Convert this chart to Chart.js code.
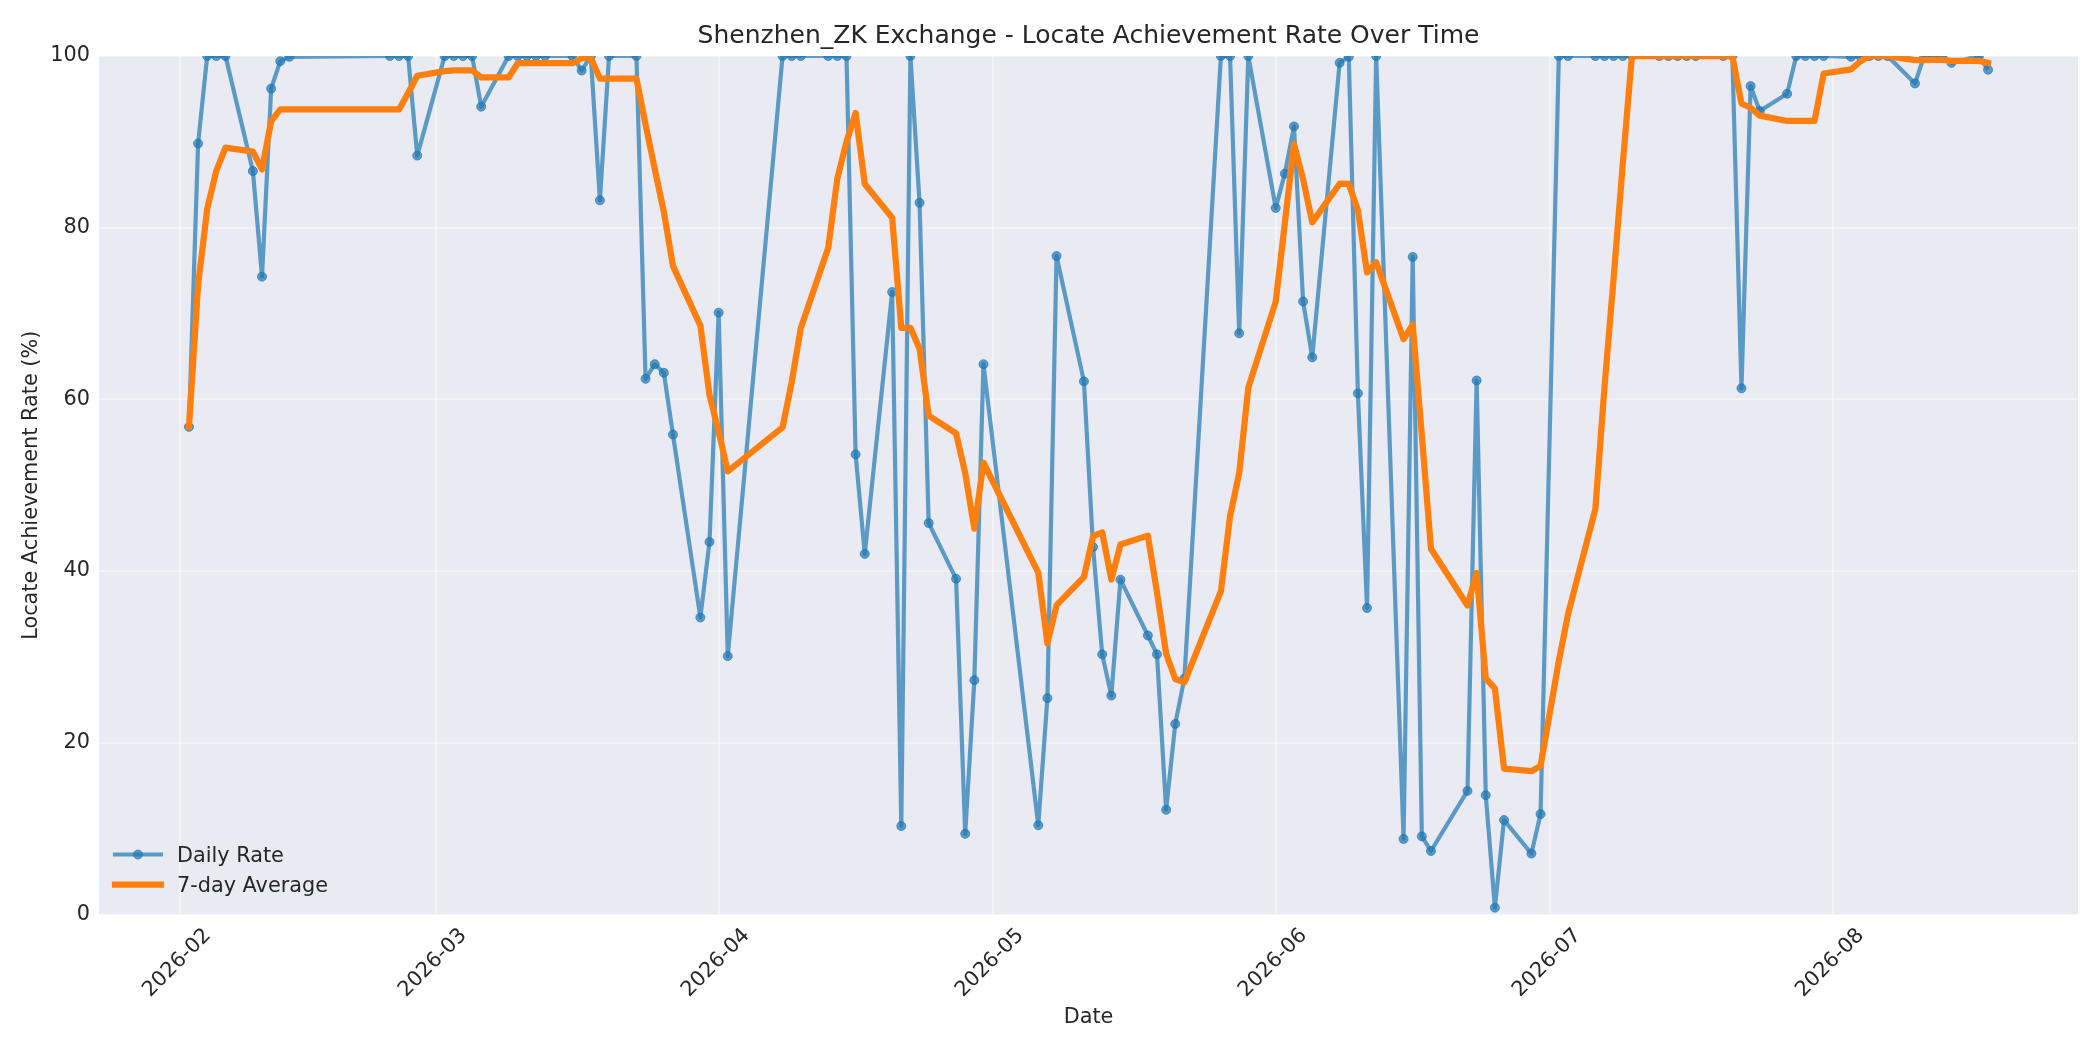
<!DOCTYPE html>
<html>
<head>
<meta charset="utf-8">
<title>Shenzhen_ZK Exchange - Locate Achievement Rate Over Time</title>
<script src="https://cdn.jsdelivr.net/npm/chart.js@4.4.1/dist/chart.umd.min.js"></script>
<style>
  html, body { margin: 0; padding: 0; background: #ffffff; }
  #wrap { width: 2100px; height: 1050px; }
</style>
</head>
<body>
<div id="wrap"><canvas id="chart" width="2100" height="1050"></canvas></div>
<script>
// trading days shown on the chart
const dates = [
  '2026-02-02','2026-02-03','2026-02-04','2026-02-05','2026-02-06',
  '2026-02-09','2026-02-10','2026-02-11','2026-02-12','2026-02-13',
  '2026-02-24','2026-02-25','2026-02-26','2026-02-27',
  '2026-03-02','2026-03-03','2026-03-04','2026-03-05','2026-03-06',
  '2026-03-09','2026-03-10','2026-03-11','2026-03-12','2026-03-13',
  '2026-03-16','2026-03-17','2026-03-18','2026-03-19','2026-03-20',
  '2026-03-23','2026-03-24','2026-03-25','2026-03-26','2026-03-27',
  '2026-03-30','2026-03-31','2026-04-01','2026-04-02',
  '2026-04-08','2026-04-09','2026-04-10',
  '2026-04-13','2026-04-14','2026-04-15','2026-04-16','2026-04-17',
  '2026-04-20','2026-04-21','2026-04-22','2026-04-23','2026-04-24',
  '2026-04-27','2026-04-28','2026-04-29','2026-04-30',
  '2026-05-06','2026-05-07','2026-05-08',
  '2026-05-11','2026-05-12','2026-05-13','2026-05-14','2026-05-15',
  '2026-05-18','2026-05-19','2026-05-20','2026-05-21','2026-05-22',
  '2026-05-26','2026-05-27','2026-05-28','2026-05-29',
  '2026-06-01','2026-06-02','2026-06-03','2026-06-04','2026-06-05',
  '2026-06-08','2026-06-09','2026-06-10','2026-06-11','2026-06-12',
  '2026-06-15','2026-06-16','2026-06-17','2026-06-18',
  '2026-06-22','2026-06-23','2026-06-24','2026-06-25','2026-06-26',
  '2026-06-29','2026-06-30',
  '2026-07-02','2026-07-03',
  '2026-07-06','2026-07-07','2026-07-08','2026-07-09','2026-07-10',
  '2026-07-13','2026-07-14','2026-07-15','2026-07-16','2026-07-17',
  '2026-07-20','2026-07-21','2026-07-22','2026-07-23','2026-07-24',
  '2026-07-27','2026-07-28','2026-07-29','2026-07-30','2026-07-31',
  '2026-08-03','2026-08-04','2026-08-05','2026-08-06','2026-08-07',
  '2026-08-10','2026-08-11','2026-08-12','2026-08-13','2026-08-14',
  '2026-08-17','2026-08-18'
];

const dailyRate = [
  56.8, 89.8, 100, 100, 100,
  86.6, 74.3, 96.2, 99.4, 99.9,
  100, 100, 100, 88.4,
  100, 100, 100, 100, 94.1,
  100, 100, 100, 100, 100,
  100, 98.3, 100, 83.2, 100,
  100, 62.4, 64.1, 63.1, 55.9,
  34.6, 43.4, 70.1, 30.1,
  100, 100, 100,
  100, 100, 100, 53.6, 42.0,
  72.5, 10.3, 100, 82.9, 45.6,
  39.1, 9.4, 27.3, 64.1,
  10.4, 25.2, 76.7,
  62.1, 42.8, 30.3, 25.5, 39.0,
  32.5, 30.3, 12.2, 22.2, 27.5,
  100, 100, 67.7, 100,
  82.3, 86.3, 91.8, 71.4, 64.9,
  99.2, 99.9, 60.7, 35.7, 100,
  8.8, 76.6, 9.1, 7.4,
  14.4, 62.2, 13.9, 0.8, 11.0,
  7.1, 11.7,
  100, 100,
  100, 100, 100, 100, 100,
  100, 100, 100, 100, 100,
  100, 100, 61.3, 96.5, 93.6,
  95.6, 100, 100, 100, 100,
  99.9, 100, 100, 100, 100,
  96.8, 100, 100, 100, 99.2,
  100, 98.4
];

const weekAvg = [
  56.8, 73.3, 82.2, 86.65, 89.32,
  88.87, 86.79, 92.41, 93.79, 93.77,
  93.77, 93.77, 95.69, 97.7,
  98.24, 98.33, 98.34, 98.34, 97.5,
  97.5, 99.16, 99.16, 99.16, 99.16,
  99.16, 99.76, 99.76, 97.36, 97.36,
  97.36, 91.99, 86.86, 81.83, 75.53,
  68.59, 60.5, 56.23, 51.61,
  56.74, 62.01, 68.31,
  77.66, 85.74, 90.01, 93.37, 85.09,
  81.16, 68.34, 68.34, 65.89, 58.12,
  56.05, 51.39, 44.94, 52.62,
  39.82, 31.59, 36.03,
  39.31, 44.09, 44.51, 39.0, 43.09,
  44.13, 37.5, 30.37, 27.43, 27.03,
  37.67, 46.39, 51.41, 61.37,
  71.39, 80.54, 89.73, 85.64, 80.62,
  85.12, 85.1, 82.02, 74.79, 75.96,
  67.02, 68.7, 55.83, 42.61,
  36.0, 39.79, 27.49, 26.35, 16.98,
  16.69, 17.31,
  29.54, 34.94,
  47.23, 61.4, 74.11, 87.39, 100,
  100, 100, 100, 100, 100,
  100, 100, 94.47, 93.97, 93.06,
  92.43, 92.43, 92.43, 92.43, 97.96,
  98.44, 99.36, 99.99, 99.99, 99.99,
  99.53, 99.53, 99.54, 99.54, 99.43,
  99.43, 99.2
];

const monthTicks = ['2026-02', '2026-03', '2026-04', '2026-05', '2026-06', '2026-07', '2026-08'];
const yTicks = [0, 20, 40, 60, 80, 100];

const FONT = "'DejaVu Sans', sans-serif";
const TEXT = '#262626';
const BLUE = 'rgba(31, 119, 180, 0.7)';
const ORANGE = '#ff7f0e';

const toMs = s => Date.parse(s);
const tickMs = monthTicks.map(m => Date.parse(m + '-01'));

// matplotlib style 5% x margin around the data
const first = toMs(dates[0]);
const last = toMs(dates[dates.length - 1]);
const xPad = (last - first) * 0.05;

const fmtMonth = v => {
  const d = new Date(v);
  return d.getUTCFullYear() + '-' + String(d.getUTCMonth() + 1).padStart(2, '0');
};

// axes face colour
const faceColor = {
  id: 'faceColor',
  beforeDraw(chart) {
    const { ctx, chartArea: a } = chart;
    ctx.save();
    ctx.fillStyle = '#ffffff';
    ctx.fillRect(0, 0, chart.width, chart.height);
    ctx.fillStyle = '#eaeaf2';
    ctx.fillRect(a.left, a.top, a.right - a.left, a.bottom - a.top);
    ctx.restore();
  }
};

// legend inside the axes, lower left, no frame
const innerLegend = {
  id: 'innerLegend',
  afterDatasetsDraw(chart) {
    const { ctx, chartArea: a } = chart;
    const x0 = a.left + 16, x1 = a.left + 62, tx = a.left + 78;
    const rows = [a.bottom - 60, a.bottom - 30];
    ctx.save();
    chart.data.datasets.forEach((ds, i) => {
      const y = rows[i];
      ctx.beginPath();
      ctx.moveTo(x0, y);
      ctx.lineTo(x1, y);
      ctx.strokeStyle = ds.borderColor;
      ctx.lineWidth = ds.borderWidth;
      ctx.lineCap = 'square';
      ctx.stroke();
      if (ds.pointRadius > 0) {
        ctx.beginPath();
        ctx.arc((x0 + x1) / 2, y, ds.pointRadius, 0, Math.PI * 2);
        ctx.fillStyle = ds.pointBackgroundColor;
        ctx.fill();
        ctx.lineWidth = ds.pointBorderWidth;
        ctx.strokeStyle = ds.pointBorderColor;
        ctx.stroke();
      }
      ctx.fillStyle = TEXT;
      ctx.font = '20.8px ' + FONT;
      ctx.textAlign = 'left';
      ctx.textBaseline = 'alphabetic';
      ctx.fillText(ds.label, tx, y + 7.5);
    });
    ctx.restore();
  }
};

new Chart(document.getElementById('chart'), {
  type: 'line',
  data: {
    datasets: [
      {
        label: 'Daily Rate',
        data: dates.map((d, i) => ({ x: toMs(d), y: dailyRate[i] })),
        borderColor: BLUE,
        borderWidth: 4.2,
        pointRadius: 4.5,
        pointHoverRadius: 4.5,
        pointBackgroundColor: BLUE,
        pointBorderColor: BLUE,
        pointBorderWidth: 1,
        borderJoinStyle: 'round',
        tension: 0,
        clip: 0,
        order: 2
      },
      {
        label: '7-day Average',
        data: dates.map((d, i) => ({ x: toMs(d), y: weekAvg[i] })),
        borderColor: ORANGE,
        borderWidth: 6.25,
        pointRadius: 0,
        pointHoverRadius: 0,
        borderJoinStyle: 'round',
        borderCapStyle: 'square',
        tension: 0,
        clip: 0,
        order: 1
      }
    ]
  },
  options: {
    responsive: false,
    devicePixelRatio: 1,
    animation: false,
    events: [],
    layout: { padding: { left: 0, right: 22, top: 0, bottom: 0 } },
    plugins: {
      legend: { display: false },
      tooltip: { enabled: false },
      title: {
        display: true,
        text: 'Shenzhen_ZK Exchange - Locate Achievement Rate Over Time',
        color: TEXT,
        font: { family: FONT, size: 25, weight: 'normal' },
        padding: { top: 21, bottom: 5 },
        fullSize: false
      }
    },
    scales: {
      x: {
        type: 'linear',
        min: first - xPad,
        max: last + xPad,
        afterFit(scale) { scale.height = 135.5; },
        afterBuildTicks(scale) { scale.ticks = tickMs.map(v => ({ value: v })); },
        ticks: {
          autoSkip: false,
          minRotation: 45,
          maxRotation: 45,
          padding: 9,
          labelOffset: 28,
          color: TEXT,
          font: { family: FONT, size: 20.8 },
          callback: v => fmtMonth(v)
        },
        grid: { color: 'rgba(255,255,255,0.4)', lineWidth: 2, drawTicks: false },
        border: { display: false },
        title: {
          display: true,
          text: 'Date',
          color: TEXT,
          font: { family: FONT, size: 20.8 },
          padding: { top: 0, bottom: 19.5 }
        }
      },
      y: {
        min: 0,
        max: 100,
        afterFit(scale) { scale.width = 99; },
        afterBuildTicks(scale) { scale.ticks = yTicks.map(v => ({ value: v })); },
        ticks: {
          padding: 9,
          color: TEXT,
          font: { family: FONT, size: 20.8 }
        },
        grid: { color: 'rgba(255,255,255,0.4)', lineWidth: 2, drawTicks: false },
        border: { display: false },
        title: {
          display: true,
          text: 'Locate Achievement Rate (%)',
          color: TEXT,
          font: { family: FONT, size: 20.8 },
          padding: { top: 19, bottom: 0 }
        }
      }
    }
  },
  plugins: [faceColor, innerLegend]
});
</script>
</body>
</html>
